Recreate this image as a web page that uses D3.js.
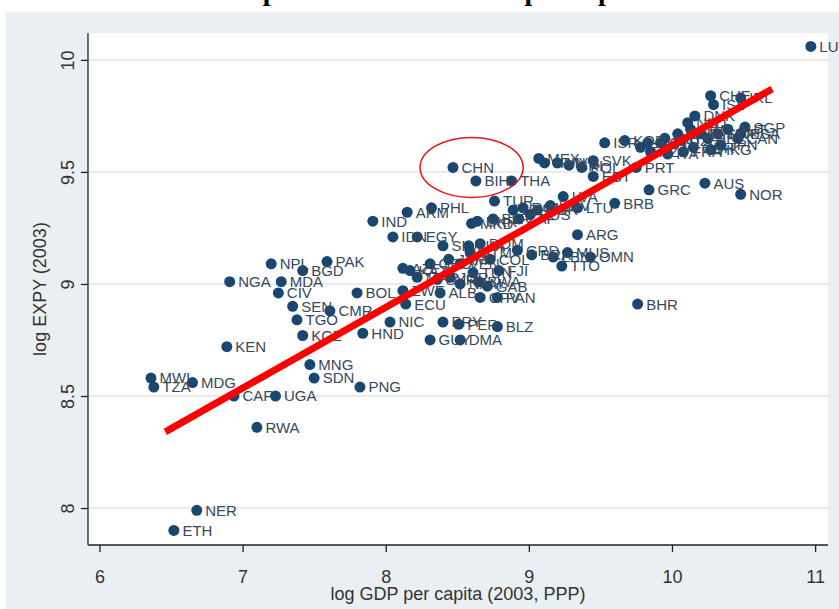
<!DOCTYPE html>
<html>
<head>
<meta charset="utf-8">
<script src="https://cdn.jsdelivr.net/npm/d3@7"></script>
<style>
body { margin: 0; background: #fff; }
svg { display: block; font-family: "Liberation Sans", Arial, sans-serif; }
</style>
</head>
<body>
<svg width="839" height="609"></svg>
<script>
// country codes, log GDP per capita (2003, PPP), log EXPY (2003)
const codes = ["LUX","CHE","IRL","ISL","DNK","NLD","FIN","USA","SWE","DEU",
  "BEL","AUT","GBR","FRA","JPN","HKG","CAN","SGP","ITA","NZL",
  "ESP","KOR","SVN","CYP","GRC","AUS","NOR","ISR","SVK","PRT",
  "EST","MEX","HUN","MYS","CRI","POL","CHN","BIH","THA","TUR",
  "LVA","LTU","BRB","HRV","BGR","ROM","URY","ARM","PHL","UKR",
  "MKD","BLR","ZAF","RUS","IND","IDN","EGY","SLV","LKA","DOM",
  "GTM","GRD","BRA","MUS","ARG","OMN","TTO","LBN","COL","VEN",
  "JAM","GEO","AZE","KAZ","MAR","SYR","JOR","TUN","FJI","GAB",
  "ALB","NAM","BWA","PAN","CPV","BOL","ZWE","ECU","NIC","PRY",
  "PER","BLZ","HND","GUY","DMA","BHR","NPL","BGD","PAK","NGA",
  "MDA","CIV","SEN","CMR","TGO","KGZ","KEN","MNG","SDN","PNG",
  "MWI","TZA","MDG","CAF","UGA","RWA","NER","ETH","MLT","KWT","CZE"];

const logGdp = [10.97,10.27,10.48,10.29,10.16,10.11,10.20,10.48,10.32,10.04,
  10.25,10.39,10.15,10.08,10.34,10.27,10.46,10.51,9.97,9.85,
  9.78,9.67,9.83,9.92,9.84,10.23,10.48,9.53,9.45,9.75,
  9.45,9.07,9.11,9.20,9.28,9.37,8.47,8.63,8.88,8.76,
  9.24,9.34,9.60,9.15,9.06,8.96,8.89,8.15,8.32,8.64,
  8.60,8.75,8.93,9.01,7.91,8.05,8.22,8.40,8.58,8.66,
  8.59,8.92,9.02,9.27,9.34,9.43,9.23,9.17,8.73,8.52,
  8.44,8.31,8.12,8.17,8.22,8.36,8.45,8.61,8.79,8.71,
  8.38,8.52,8.65,8.78,8.66,7.80,8.12,8.14,8.03,8.40,
  8.51,8.78,7.84,8.31,8.52,9.76,7.20,7.42,7.59,6.91,
  7.27,7.25,7.35,7.61,7.38,7.42,6.89,7.47,7.50,7.82,
  6.36,6.38,6.65,6.94,7.23,7.10,6.68,6.52,9.95,10.13,10.06];

const logExpy = [10.06,9.84,9.83,9.80,9.75,9.72,9.67,9.67,9.67,9.67,
  9.65,9.69,9.61,9.59,9.62,9.60,9.65,9.70,9.58,9.59,
  9.61,9.64,9.63,9.63,9.42,9.45,9.40,9.63,9.55,9.52,
  9.48,9.56,9.54,9.54,9.53,9.52,9.52,9.46,9.46,9.37,
  9.39,9.34,9.36,9.35,9.33,9.34,9.33,9.32,9.34,9.28,
  9.27,9.29,9.29,9.31,9.28,9.21,9.21,9.17,9.17,9.18,
  9.14,9.15,9.13,9.14,9.22,9.12,9.08,9.12,9.11,9.09,
  9.11,9.09,9.07,9.06,9.03,9.02,9.03,9.05,9.06,8.99,
  8.96,9.00,9.01,8.94,8.94,8.96,8.97,8.91,8.83,8.83,
  8.82,8.81,8.78,8.75,8.75,8.91,9.09,9.06,9.10,9.01,
  9.01,8.96,8.90,8.88,8.84,8.77,8.72,8.64,8.58,8.54,
  8.58,8.54,8.56,8.50,8.50,8.36,7.99,7.90,9.65,9.69,9.64];

// fitted line ends and the circled area (around CHN)
const fitX = [6.46, 10.70];
const fitY = [8.34, 9.87];
const circleCenter = [8.60, 9.52];
const circleRadius = [0.36, 0.134];

const xTicks = [6, 7, 8, 9, 10, 11];
const yTicks = [8, 8.5, 9, 9.5, 10];

const titleText = "Relationship between EXPY and per capita GDP";
const xTitle = "log GDP per capita (2003, PPP)";
const yTitle = "log EXPY (2003)";

function drawChart() {
    let svg = d3.select("svg");

    const area = { left: 88, right: 828, top: 33, bottom: 545 };

    // outer graph region (Stata style)
    svg.append("rect")
        .attr("x", 6).attr("y", 12)
        .attr("width", 833).attr("height", 597)
        .style("fill", "#e9eff2");

    svg.append("rect")
        .attr("x", area.left).attr("y", area.top)
        .attr("width", area.right - area.left).attr("height", area.bottom - area.top)
        .style("fill", "#ffffff");

    // title of the slide, cut off at the top: only descenders show
    svg.append("text")
        .attr("x", 419).attr("y", 0)
        .attr("text-anchor", "middle")
        .style("font-family", "'Liberation Serif', 'Times New Roman', serif")
        .style("font-weight", "bold")
        .style("font-size", "28px")
        .style("fill", "#000")
        .text(titleText);

    let scaleX = d3.scaleLinear().domain([5.92, 11.09]).range([area.left, area.right]);
    let scaleY = d3.scaleLinear().domain([7.835, 10.12]).range([area.bottom, area.top]);

    // grid lines
    svg.append("g")
        .selectAll("line")
        .data(yTicks)
        .enter()
        .append("line")
        .attr("x1", area.left + 1).attr("x2", area.right)
        .attr("y1", d => scaleY(d)).attr("y2", d => scaleY(d))
        .style("stroke", "#ebebeb")
        .style("stroke-width", 2);

    // axes
    let axisX = d3.axisBottom(scaleX).tickValues(xTicks).tickSize(7).tickSizeOuter(0).tickFormat(d3.format("d"));
    let axisY = d3.axisLeft(scaleY).tickValues(yTicks).tickSize(7).tickSizeOuter(0).tickFormat(d => String(d));

    let gx = svg.append("g")
        .attr("transform", `translate(0, ${area.bottom})`)
        .call(axisX);
    gx.select(".domain").attr("d", `M${area.left},0H${area.right}`);
    gx.selectAll("line, path").style("stroke", "#222").style("stroke-width", 1.3);
    gx.selectAll("text")
        .attr("y", 0).attr("dy", null)
        .attr("transform", "translate(0, 38)")
        .style("font-size", "18px")
        .style("fill", "#333")
        .style("font-family", "'Liberation Sans', Arial, sans-serif");

    let gy = svg.append("g")
        .attr("transform", `translate(${area.left}, 0)`)
        .call(axisY);
    gy.select(".domain").attr("d", `M0,${area.top}V${area.bottom}`);
    gy.selectAll("line, path").style("stroke", "#222").style("stroke-width", 1.3);
    gy.selectAll(".tick text")
        .attr("x", 0).attr("dy", null)
        .attr("text-anchor", "middle")
        .attr("transform", "translate(-14, 0) rotate(-90)")
        .style("font-size", "18px")
        .style("fill", "#333")
        .style("font-family", "'Liberation Sans', Arial, sans-serif");

    // axis titles
    svg.append("text")
        .attr("x", (area.left + area.right) / 2).attr("y", 600)
        .attr("text-anchor", "middle")
        .style("font-size", "18px")
        .style("fill", "#333")
        .text(xTitle);

    svg.append("text")
        .attr("transform", `translate(46, ${(area.top + area.bottom) / 2}) rotate(-90)`)
        .attr("text-anchor", "middle")
        .style("font-size", "18px")
        .style("fill", "#333")
        .text(yTitle);

    // points with labels
    const points = codes.map((c, i) => ({ code: c, x: logGdp[i], y: logExpy[i] }));
    const r = 5.5;

    let gp = svg.append("g");
    gp.selectAll(".dot")
        .data(points)
        .enter()
        .append("circle")
        .attr("r", r)
        .attr("cx", d => scaleX(d.x))
        .attr("cy", d => scaleY(d.y))
        .style("fill", "#1a476f");

    gp.selectAll(".lbl")
        .data(points)
        .enter()
        .append("text")
        .attr("x", d => scaleX(d.x) + r + 3)
        .attr("y", d => scaleY(d.y))
        .attr("dy", "0.36em")
        .style("font-size", "15px")
        .style("fill", "#34495e")
        .text(d => d.code);

    // red fitted line
    const fit = fitX.map((v, i) => ({ x: v, y: fitY[i] }));
    const lineGenerator = d3.line()
        .x(d => scaleX(d.x))
        .y(d => scaleY(d.y));

    svg.append("path")
        .data([fit])
        .attr("d", lineGenerator)
        .style("stroke", "#ff0000")
        .style("stroke-width", 7)
        .style("fill", "none");

    // red ellipse around China
    const cx = scaleX(circleCenter[0]);
    const cy = scaleY(circleCenter[1]);
    svg.append("ellipse")
        .attr("cx", cx).attr("cy", cy)
        .attr("rx", scaleX(circleCenter[0] + circleRadius[0]) - cx)
        .attr("ry", cy - scaleY(circleCenter[1] + circleRadius[1]))
        .style("stroke", "#e8141c")
        .style("stroke-width", 1.5)
        .style("fill", "none");
}

drawChart();
</script>
</body>
</html>
